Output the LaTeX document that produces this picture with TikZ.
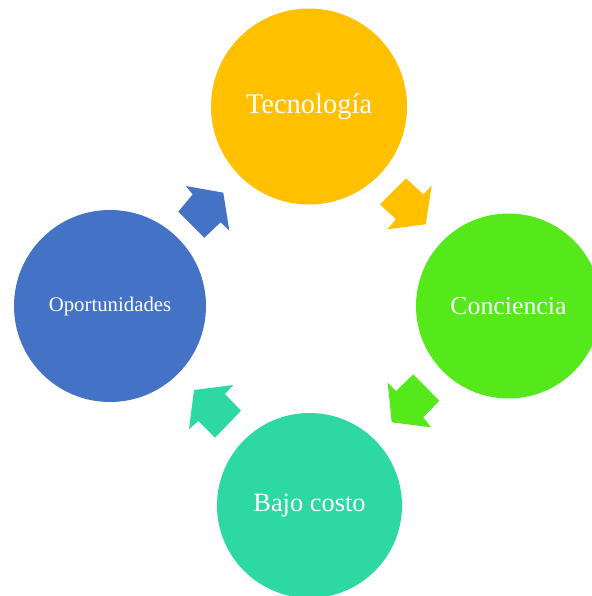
\documentclass[tikz,border=0pt]{standalone}
\usepackage{fontspec}
\setmainfont{Liberation Serif}
\definecolor{corange}{HTML}{FFC000}
\definecolor{cgreen}{HTML}{55E81B}
\definecolor{cteal}{HTML}{2ED8A2}
\definecolor{cblue}{HTML}{4472C4}
\begin{document}
\begin{tikzpicture}[x=1pt,y=-1pt,
  bubble/.style={circle,inner sep=0pt,text=white,draw=none},
  blockarrow/.style={draw=none}]
\useasboundingbox (0,0) rectangle (591,596);
\node[bubble,fill=corange,minimum size=196pt,font=\fontsize{28.5}{30}\selectfont] (tec) at (309,106.5) {Tecnología};
\node[bubble,fill=cgreen,minimum size=185pt,font=\fontsize{25.8}{28}\selectfont] (con) at (508.5,306) {Conciencia};
\node[bubble,fill=cteal,minimum size=185pt,font=\fontsize{26.4}{28}\selectfont] (baj) at (309.5,505.5) {Bajo costo};
\node[bubble,fill=cblue,minimum size=192pt,font=\fontsize{20.8}{22}\selectfont] (opo) at (110,306) {Oportunidades};
% block arrows
\fill[corange] (406,178.3) -- (423.3,194.3) -- (431.7,185.7) -- (425.7,224.3) -- (387.3,229.3) -- (396,219.3) -- (380,204.3) -- cycle;
\fill[cgreen] (387.7,382.7) -- (396,391) -- (413.3,374.3) -- (439.3,400.7) -- (423.3,417.3) -- (431,427.3) -- (391.7,422.3) -- cycle;
\fill[cteal] (194,390) -- (233.3,385) -- (225,394) -- (241,410.7) -- (215,437.7) -- (198.3,421) -- (189,429.3) -- cycle;
\fill[cblue] (185.7,186) -- (223.3,192.7) -- (229.3,230.7) -- (220.7,222.3) -- (204.3,237.7) -- (178.3,211.7) -- (192.7,194.3) -- cycle;
\end{tikzpicture}
\end{document}
